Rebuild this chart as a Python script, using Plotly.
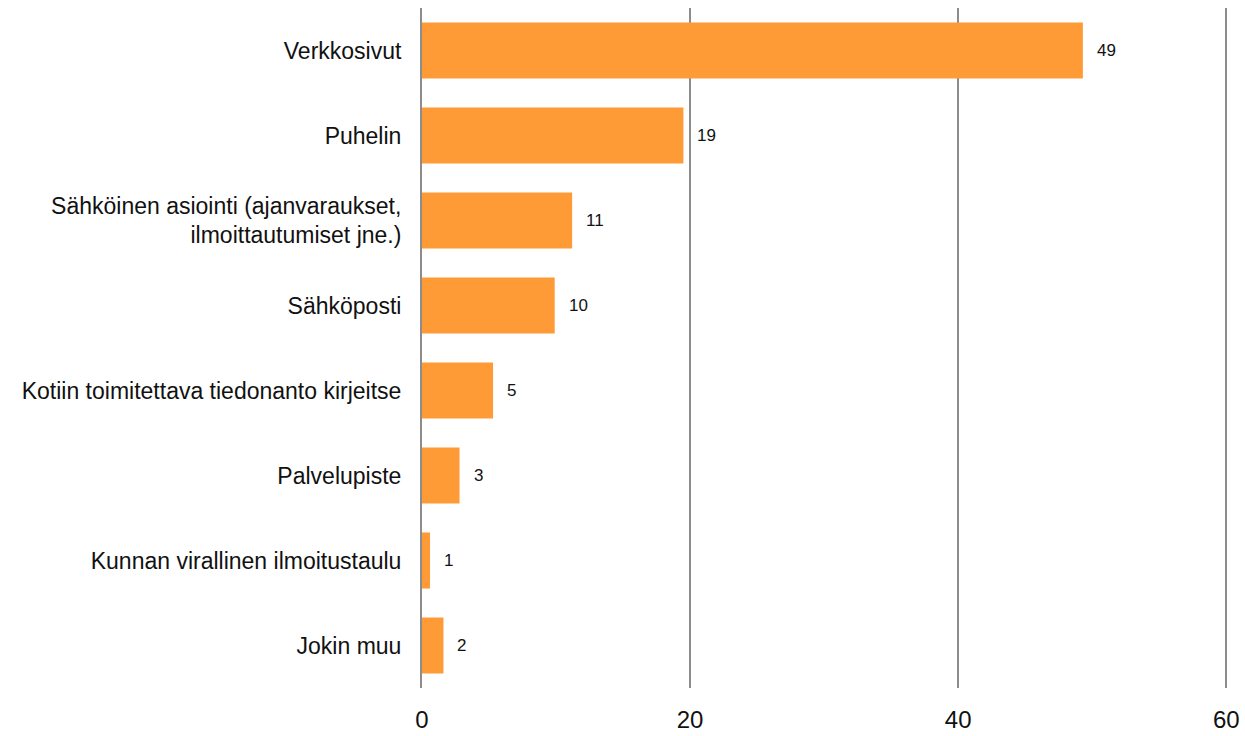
import plotly.graph_objects as go

categories = [
    "Verkkosivut",
    "Puhelin",
    "Sähköinen asiointi (ajanvaraukset,<br>ilmoittautumiset jne.)",
    "Sähköposti",
    "Kotiin toimitettava tiedonanto kirjeitse",
    "Palvelupiste",
    "Kunnan virallinen ilmoitustaulu",
    "Jokin muu",
]
values = [49.3, 19.5, 11.2, 9.9, 5.3, 2.8, 0.6, 1.6]
value_labels = ["49", "19", "11", "10", "5", "3", "1", "2"]
x_ticks = [0, 20, 40, 60]

fig = go.Figure()
fig.add_trace(go.Bar(
    x=values, y=categories, orientation="h",
    marker=dict(color="#FF9B37", line=dict(width=0)),
    width=0.66,
))

# value labels just right of each bar
for v, c, t in zip(values, categories, value_labels):
    fig.add_annotation(x=v, y=c, text=t, showarrow=False, xanchor="left",
                       xshift=12, font=dict(size=17, color="#111"))

# range a bit past 60 so plotly still draws the last gridline
fig.update_layout(
    width=1245, height=736,
    paper_bgcolor="white", plot_bgcolor="white",
    margin=dict(l=422, r=16, t=8, b=48),
    font=dict(family="Liberation Sans, Arial", color="#111"),
    showlegend=False,
    xaxis=dict(
        range=[0, 60.2], tickvals=x_ticks, showgrid=True, gridcolor="#8c8c8c",
        gridwidth=1.5, zeroline=False, tickfont=dict(size=24),
        ticks="outside", ticklen=10, tickcolor="white", automargin=False,
    ),
    yaxis=dict(
        autorange="reversed", showline=True, linecolor="#8c8c8c", linewidth=2,
        tickfont=dict(size=23), ticks="outside", ticklen=14, tickcolor="white",
        automargin=False,
    ),
)

# drop the default 8px body margin so the figure fills the window
fig.write_html("out.html", config={"displayModeBar": False},
               post_script="document.body.style.margin='0';document.body.style.overflow='hidden';")
